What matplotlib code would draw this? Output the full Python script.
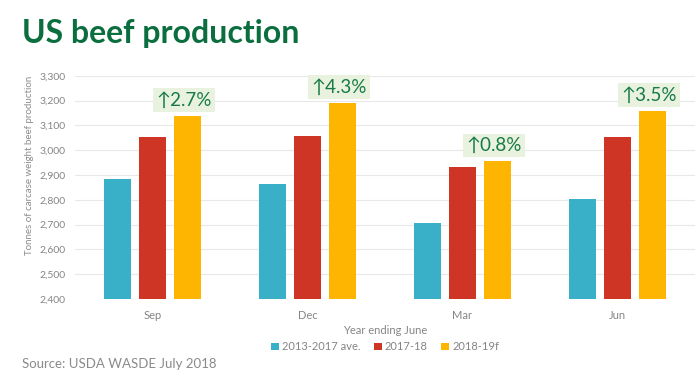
import numpy as np
import matplotlib
matplotlib.use('Agg')
import matplotlib.pyplot as plt

plt.rcParams['font.family'] = ['Lato', 'DejaVu Sans']

months = ['Sep', 'Dec', 'Mar', 'Jun']
series = ['2013-2017 ave.', '2017-18', '2018-19f']
avg_13_17 = [2883, 2865, 2705, 2803]
y_17_18 = [3054, 3057, 2932, 3052]
y_18_19 = [3139, 3191, 2956, 3159]
changes = ['2.7%', '4.3%', '0.8%', '3.5%']

colors = ['#3aafc8', '#cf3524', '#feb501']
green = '#177a46'
grey = '#8c8c8c'

fig = plt.figure(figsize=(7, 3.81), dpi=100)
ax = fig.add_axes([75/700, 1-299/381, 620/700, (299-75.7)/381])

x = np.arange(len(months))
w = 0.174
step = 0.223
vals = [avg_13_17, y_17_18, y_18_19]
for i in range(3):
    ax.bar(x + (i-1)*step, np.array(vals[i]) - 2400, bottom=2400, width=w,
           color=colors[i], label=series[i], zorder=3)

for i in range(len(months)):
    ax.annotate(u'\u2191' + changes[i], xy=(x[i] + step, y_18_19[i]),
                xytext=(-2, 5), textcoords='offset points', ha='center', va='bottom',
                fontsize=13.5, color=green,
                bbox=dict(boxstyle='square,pad=0.18', fc='#e8f2df', ec='none'))

ax.set_ylim(2400, 3300)
ax.set_xlim(-0.5, 3.5)
ax.set_yticks(np.arange(2400, 3301, 100))
ax.set_yticklabels(['{:,}'.format(v) for v in range(2400, 3301, 100)])
ax.set_xticks(x)
ax.set_xticklabels(months)
ax.tick_params(length=0, labelsize=8, colors='#858585', pad=8)
ax.tick_params(axis='y', labelsize=7.5, pad=7)
ax.grid(axis='y', color='#e8e8e8', lw=0.8, zorder=0)
for s in ax.spines.values():
    s.set_visible(False)

ax.set_ylabel('Tonnes of carcase weight beef production', fontsize=7, color=grey)
ax.yaxis.set_label_coords(-0.066, 0.6)
ax.set_xlabel('Year ending June', fontsize=8, color='#858585', labelpad=3)

ax.legend(loc='upper center', bbox_to_anchor=(0.5, -0.145), ncol=3, frameon=False,
          fontsize=8, handlelength=0.7, handleheight=0.7, columnspacing=1.2,
          handletextpad=0.3, labelcolor='#858585')

fig.text(22/700, 1-33/381, 'US beef production', fontsize=23, fontweight='bold',
         color='#0a6e3f', va='center', ha='left')
fig.text(22/700, 1-364/381, 'Source: USDA WASDE July 2018', fontsize=9.5,
         color='#8a8a8a', va='center', ha='left')

fig.savefig('out.png', dpi=100)
